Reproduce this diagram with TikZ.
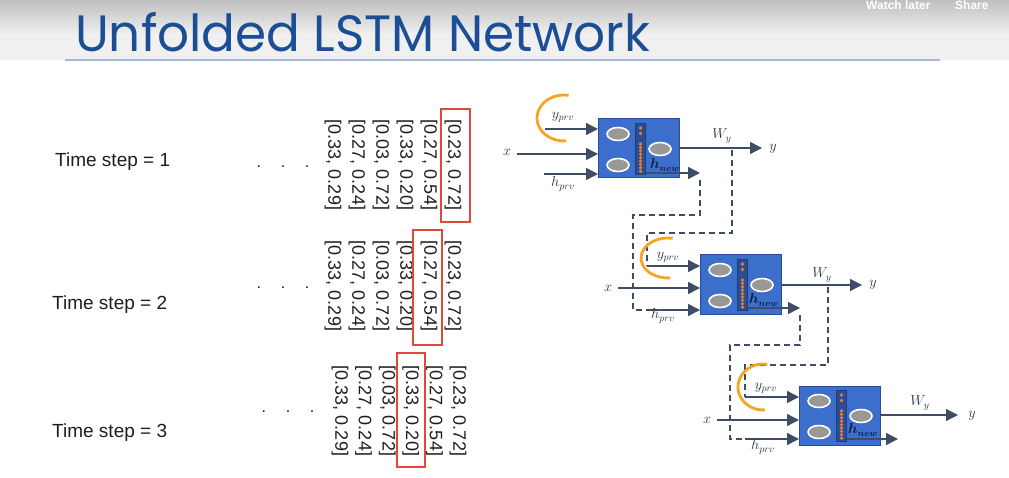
\documentclass[tikz,border=0pt]{standalone}
\usepackage{graphicx}
\usepackage{fontspec}
\setmainfont{Liberation Sans}
\newfontfamily\titlefont{Poppins}
\usetikzlibrary{arrows.meta,shapes.geometric}

\definecolor{titleblue}{RGB}{28,78,150}
\definecolor{rulec}{RGB}{168,184,214}
\definecolor{textc}{RGB}{30,30,30}
\definecolor{cellfill}{RGB}{60,110,204}
\definecolor{celldraw}{RGB}{38,76,156}
\definecolor{stripc}{RGB}{42,78,150}
\definecolor{dotc}{RGB}{236,122,42}
\definecolor{ovalc}{RGB}{152,152,152}
\definecolor{arrowc}{RGB}{62,76,102}
\definecolor{arcc}{RGB}{242,166,36}
\definecolor{boxred}{RGB}{224,72,60}
\definecolor{labelc}{RGB}{45,52,70}
\definecolor{hnewc}{RGB}{18,28,58}

\tikzset{
  arr/.style={draw=arrowc, line width=1.4pt, -{Triangle[length=12pt,width=12pt]}},
  dashlink/.style={draw=arrowc, line width=1.6pt, dash pattern=on 6pt off 4pt},
  cell/.style={draw=celldraw, fill=cellfill, line width=1pt, minimum width=81pt,
    minimum height=59pt, inner sep=0, outer sep=0, anchor=north west},
  strip/.style={draw=celldraw!80!black, fill=stripc, line width=0.6pt,
    minimum width=10pt, minimum height=51pt, inner sep=0},
  oval/.style={ellipse, draw=white, fill=ovalc, line width=1.6pt,
    minimum width=22pt, minimum height=13pt, inner sep=0},
  ringarc/.style={draw=arcc, line width=2.8pt},
  mathlbl/.style={inner sep=0, text=labelc, font=\fontsize{14.5}{16}\selectfont},
  hnewlbl/.style={inner sep=0, text=hnewc, font=\fontsize{13.5}{15}\selectfont\boldmath},
  tslabel/.style={inner sep=0, text=textc, font=\fontsize{19}{22}\selectfont, anchor=base west},
  coltext/.style={inner sep=0, text=textc, font=\fontsize{18}{20}\selectfont, rotate=-90},
  ellip/.style={inner sep=0, text=textc, font=\fontsize{16}{18}\selectfont},
  redbox/.style={draw=boxred, line width=1.4pt},
  overlaytext/.style={anchor=base west, inner sep=0, text=white, font=\fontsize{12}{13}\selectfont\bfseries},
}

% one LSTM cell: name, x and y of its top left corner
\newcommand\lstmcell[3]{%
  \node[cell] (#1) at (#2,#3) {};
  \begin{scope}[shift={(#1.north west)}]
    \node[strip] (#1-s) at (42.5,30) {};
    \node[oval] (#1-i) at (20,15) {};
    \node[oval] (#1-f) at (20,46) {};
    \node[oval] (#1-o) at (62,30) {};
    \foreach \d in {9,14.5,25,28.4,31.8,35.2,38.6,42,45.4,48.8,52.2}
      \fill[dotc] (42.5,\d) circle[radius=1.8pt];
  \end{scope}}

\begin{document}
\begin{tikzpicture}[x=1pt,y=-1pt]
\useasboundingbox (0,0) rectangle (1009,478);
\fill[white] (0,0) rectangle (1009,478);

% header band
\shade[top color=black!25, bottom color=black!6] (0,0) rectangle (1009,34);
\fill[black!6] (0,34) rectangle (1009,60);
\node[overlaytext] (watch) at (866,10) {Watch later};
\node[overlaytext] (share) at (955,10) {Share};
\node[anchor=base west, inner sep=0, text=titleblue] (title) at (75,52)
  {\resizebox{575pt}{39pt}{\titlefont Unfolded LSTM Network}};
\draw[rulec, line width=1.5pt] (65,60) -- (940,60);

% time step labels
\node[tslabel] (ts1) at (55,167) {Time step = 1};
\node[tslabel] (ts2) at (52,309) {Time step = 2};
\node[tslabel] (ts3) at (52,437) {Time step = 3};
\node[ellip] (el1) at (283,167) {.\hspace{19.6pt}.\hspace{19.6pt}.};
\node[ellip] (el2) at (283,288) {.\hspace{19.6pt}.\hspace{19.6pt}.};
\node[ellip] (el3) at (288,412) {.\hspace{19.6pt}.\hspace{19.6pt}.};

% input sequences, one column per vector
\foreach \t [count=\k from 0] in {{[0.23, 0.72]},{[0.27, 0.54]},{[0.33, 0.20]},{[0.03, 0.72]},{[0.27, 0.24]},{[0.33, 0.29]}}{
  \node[coltext] (ma-\k) at ({453-24*\k},165) {\t};
  \node[coltext] (mb-\k) at ({453-24*\k},286) {\t};
  \node[coltext] (mc-\k) at ({458-23.6*\k},411) {\t};
}
\draw[redbox] (441,109) rectangle (470,222);
\draw[redbox] (413,230) rectangle (442,345);
\draw[redbox] (397,353) rectangle (425,467);

% cells
\lstmcell{c1}{598}{119}
\lstmcell{c2}{700}{255}
\lstmcell{c3}{799}{386}

% free ends of the connectors
\coordinate (c1-yin) at (545,129);
\coordinate (c1-xin) at (517,154);
\coordinate (c1-hin) at (544,174);
\coordinate (c1-out) at (762,148);
\coordinate (c1-hn)  at (700,173);
\coordinate (c1-wy)  at (732,148);
\coordinate (c2-yin) at (647,266);
\coordinate (c2-xin) at (618,288);
\coordinate (c2-hin) at (648,310);
\coordinate (c2-out) at (862,285);
\coordinate (c2-hn)  at (800,308);
\coordinate (c2-wy)  at (828,285);
\coordinate (c3-yin) at (745,397);
\coordinate (c3-xin) at (717,420);
\coordinate (c3-hin) at (745,439);
\coordinate (c3-out) at (958,415);
\coordinate (c3-hn)  at (898,439);
\coordinate (b1) at (633,215);
\coordinate (b2) at (647,233);
\coordinate (b3) at (730,345);
\coordinate (b4) at (745,365);

% recurrent links between time steps
\draw[dashlink] ([yshift=-7pt]c1-hn) |- (b1) |- (c2-hin);
\draw[dashlink] ([yshift=-2pt]c1-wy) |- (b2) -- (c2-yin);
\draw[dashlink] ([yshift=-7pt]c2-hn) |- (b3) |- (c3-hin);
\draw[dashlink] ([yshift=-2pt]c2-wy) |- (b4) -- (c3-yin);

% cell inputs and outputs
\foreach \c in {c1,c2,c3}{
  \draw[arr] (\c-yin) -- (\c-yin -| \c.west);
  \draw[arr] (\c-xin) -- (\c-xin -| \c.west);
  \draw[arr] (\c-hin) -- (\c-hin -| \c.west);
  \draw[arr] (\c-out -| \c.east) -- (\c-out);
  \draw[arr] (\c-hn -| \c-s.east) -- (\c-hn);
}

% previous-output loops
\draw[ringarc] (564,118) ++(-80:27 and 23) arc[start angle=-80, end angle=-275, x radius=27, y radius=23];
\draw[ringarc] (668,258) ++(-80:27 and 20) arc[start angle=-80, end angle=-275, x radius=27, y radius=20];
\draw[ringarc] (763,387) ++(-80:25 and 23) arc[start angle=-80, end angle=-275, x radius=25, y radius=23];

% labels
\node[mathlbl] (c1-ly) at (563,117) {$y_{prv}$};
\node[mathlbl] (c1-lx) at (507,152) {$x$};
\node[mathlbl] (c1-lh) at (563,184) {$h_{prv}$};
\node[mathlbl] (c1-lw) at (722,136) {$W_y$};
\node[mathlbl] (c1-lo) at (773,149) {$y$};
\node[hnewlbl] (c1-ln) at (665,165) {$h_{new}$};

\node[mathlbl] (c2-ly) at (668,257) {$y_{prv}$};
\node[mathlbl] (c2-lx) at (608,288) {$x$};
\node[mathlbl] (c2-lh) at (663,316) {$h_{prv}$};
\node[mathlbl] (c2-lw) at (822,275) {$W_y$};
\node[mathlbl] (c2-lo) at (873,285) {$y$};
\node[hnewlbl] (c2-ln) at (764,300) {$h_{new}$};

\node[mathlbl] (c3-ly) at (766,388) {$y_{prv}$};
\node[mathlbl] (c3-lx) at (707,420) {$x$};
\node[mathlbl] (c3-lh) at (763,447) {$h_{prv}$};
\node[mathlbl] (c3-lw) at (920,403) {$W_y$};
\node[mathlbl] (c3-lo) at (972,416) {$y$};
\node[hnewlbl] (c3-ln) at (863,430) {$h_{new}$};
\end{tikzpicture}
\end{document}
